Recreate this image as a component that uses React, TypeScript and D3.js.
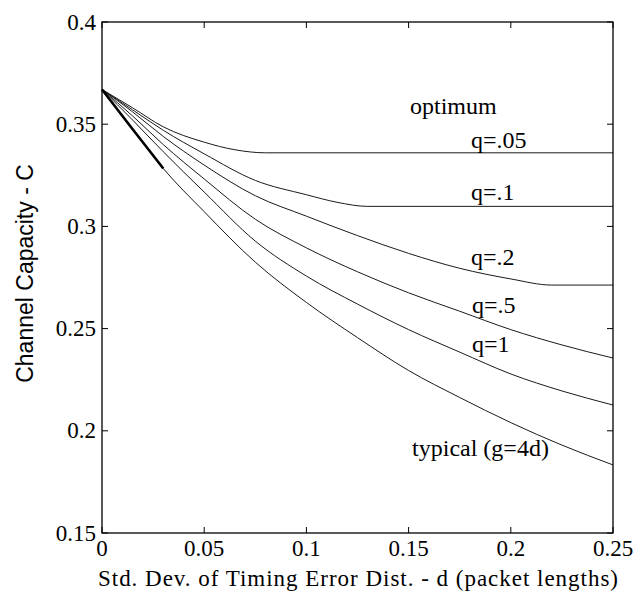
import React from "react";
import * as d3 from "d3";

const xTicks = [0, 0.05, 0.1, 0.15, 0.2, 0.25];
const xTickLabels = ["0", "0.05", "0.1", "0.15", "0.2", "0.25"];
const yTicks = [0.15, 0.2, 0.25, 0.3, 0.35, 0.4];
const yTickLabels = ["0.15", "0.2", "0.25", "0.3", "0.35", "0.4"];

const q05: [number, number][] = [
  [0, 0.367], [0.015, 0.358], [0.03, 0.3487], [0.05, 0.3412], [0.065, 0.3375], [0.08, 0.336], [0.25, 0.336],
];
const q1: [number, number][] = [
  [0, 0.367], [0.015, 0.357], [0.03, 0.347], [0.05, 0.3355], [0.075, 0.3225], [0.1, 0.3155], [0.115, 0.3118], [0.13, 0.3098], [0.25, 0.3098],
];
const q2: [number, number][] = [
  [0, 0.367], [0.015, 0.356], [0.03, 0.344], [0.05, 0.330], [0.075, 0.315], [0.1, 0.305], [0.125, 0.2955], [0.15, 0.2868], [0.175, 0.2795], [0.2, 0.2743], [0.22, 0.2713], [0.25, 0.2713],
];
const q5: [number, number][] = [
  [0, 0.367], [0.015, 0.354], [0.03, 0.340], [0.05, 0.3232], [0.075, 0.3035], [0.1, 0.2895], [0.125, 0.2778], [0.15, 0.2675], [0.175, 0.2585], [0.2, 0.2495], [0.225, 0.242], [0.25, 0.2356],
];
const qOne: [number, number][] = [
  [0, 0.367], [0.015, 0.352], [0.03, 0.3365], [0.05, 0.3168], [0.075, 0.2928], [0.1, 0.2757], [0.125, 0.262], [0.15, 0.2495], [0.175, 0.2385], [0.2, 0.2278], [0.225, 0.2195], [0.25, 0.2126],
];
const typical: [number, number][] = [
  [0, 0.367], [0.015, 0.3475], [0.03, 0.3283], [0.05, 0.3072], [0.075, 0.2825], [0.1, 0.2628], [0.125, 0.2456], [0.15, 0.2295], [0.175, 0.2163], [0.2, 0.204], [0.225, 0.193], [0.25, 0.1833],
];
const typicalThick: [number, number][] = [
  [0, 0.367], [0.015, 0.3475], [0.03, 0.3283],
];

const seriesList = [q05, q1, q2, q5, qOne, typical];

const curveLabels = [
  { text: "optimum", d: 0.1507, c: 0.3550 },
  { text: "q=.05", d: 0.1805, c: 0.3384 },
  { text: "q=.1", d: 0.1805, c: 0.3129 },
  { text: "q=.2", d: 0.1805, c: 0.2811 },
  { text: "q=.5", d: 0.1810, c: 0.2576 },
  { text: "q=1", d: 0.1810, c: 0.2386 },
  { text: "typical (g=4d)", d: 0.1517, c: 0.1877 },
];

const W = 635;
const H = 609;
const L = 102, R = 613, T = 22, B = 533;

export default function App() {
  const x = d3.scaleLinear().domain([0, 0.25]).range([L, R]);
  const y = d3.scaleLinear().domain([0.15, 0.4]).range([B, T]);
  const line = d3
    .line<[number, number]>()
    .x((p) => x(p[0]))
    .y((p) => y(p[1]))
    .curve(d3.curveMonotoneX);
  const serif = "Liberation Serif";
  const sans = "Liberation Sans";
  const tl = 6;
  return (
    <svg
      width={W}
      height={H}
      style={{ position: "absolute", left: 0, top: 0, background: "#fff" }}
    >
      <rect x={0} y={0} width={W} height={H} fill="#fff" />
      {seriesList.map((s, i) => (
        <path key={i} d={line(s) || ""} fill="none" stroke="#1a1a1a" strokeWidth={1} />
      ))}
      <path d={line(typicalThick) || ""} fill="none" stroke="#000" strokeWidth={2.6} />
      <rect x={L} y={T} width={R - L} height={B - T} fill="none" stroke="#000" strokeWidth={1.3} />
      {xTicks.map((t, i) => (
        <g key={"x" + i}>
          <line x1={x(t)} x2={x(t)} y1={B} y2={B - tl} stroke="#000" strokeWidth={1} />
          <line x1={x(t)} x2={x(t)} y1={T} y2={T + tl} stroke="#000" strokeWidth={1} />
          <text x={x(t)} y={556} textAnchor="middle" fontFamily={serif} fontSize={23} fill="#000">
            {xTickLabels[i]}
          </text>
        </g>
      ))}
      {yTicks.map((t, i) => (
        <g key={"y" + i}>
          <line x1={L} x2={L + tl} y1={y(t)} y2={y(t)} stroke="#000" strokeWidth={1} />
          <line x1={R} x2={R - tl} y1={y(t)} y2={y(t)} stroke="#000" strokeWidth={1} />
          <text
            x={96}
            y={y(t)}
            dy="0.33em"
            textAnchor="end"
            fontFamily={serif}
            fontSize={23}
            fill="#000"
          >
            {yTickLabels[i]}
          </text>
        </g>
      ))}
      {curveLabels.map((c, i) => (
        <text key={"l" + i} x={x(c.d)} y={y(c.c)} fontFamily={serif} fontSize={24} fill="#000">
          {c.text}
        </text>
      ))}
      <text
        x={98}
        y={586}
        textLength={520}
        lengthAdjust="spacing"
        fontFamily={serif}
        fontSize={23}
        fill="#000"
      >
        Std. Dev. of Timing Error Dist. - d (packet lengths)
      </text>
      <text
        transform={`translate(33, ${(T + B) / 2 - 4}) rotate(-90)`}
        textAnchor="middle"
        fontFamily={sans}
        fontSize={23}
        fill="#000"
      >
        Channel Capacity - C
      </text>
    </svg>
  );
}
